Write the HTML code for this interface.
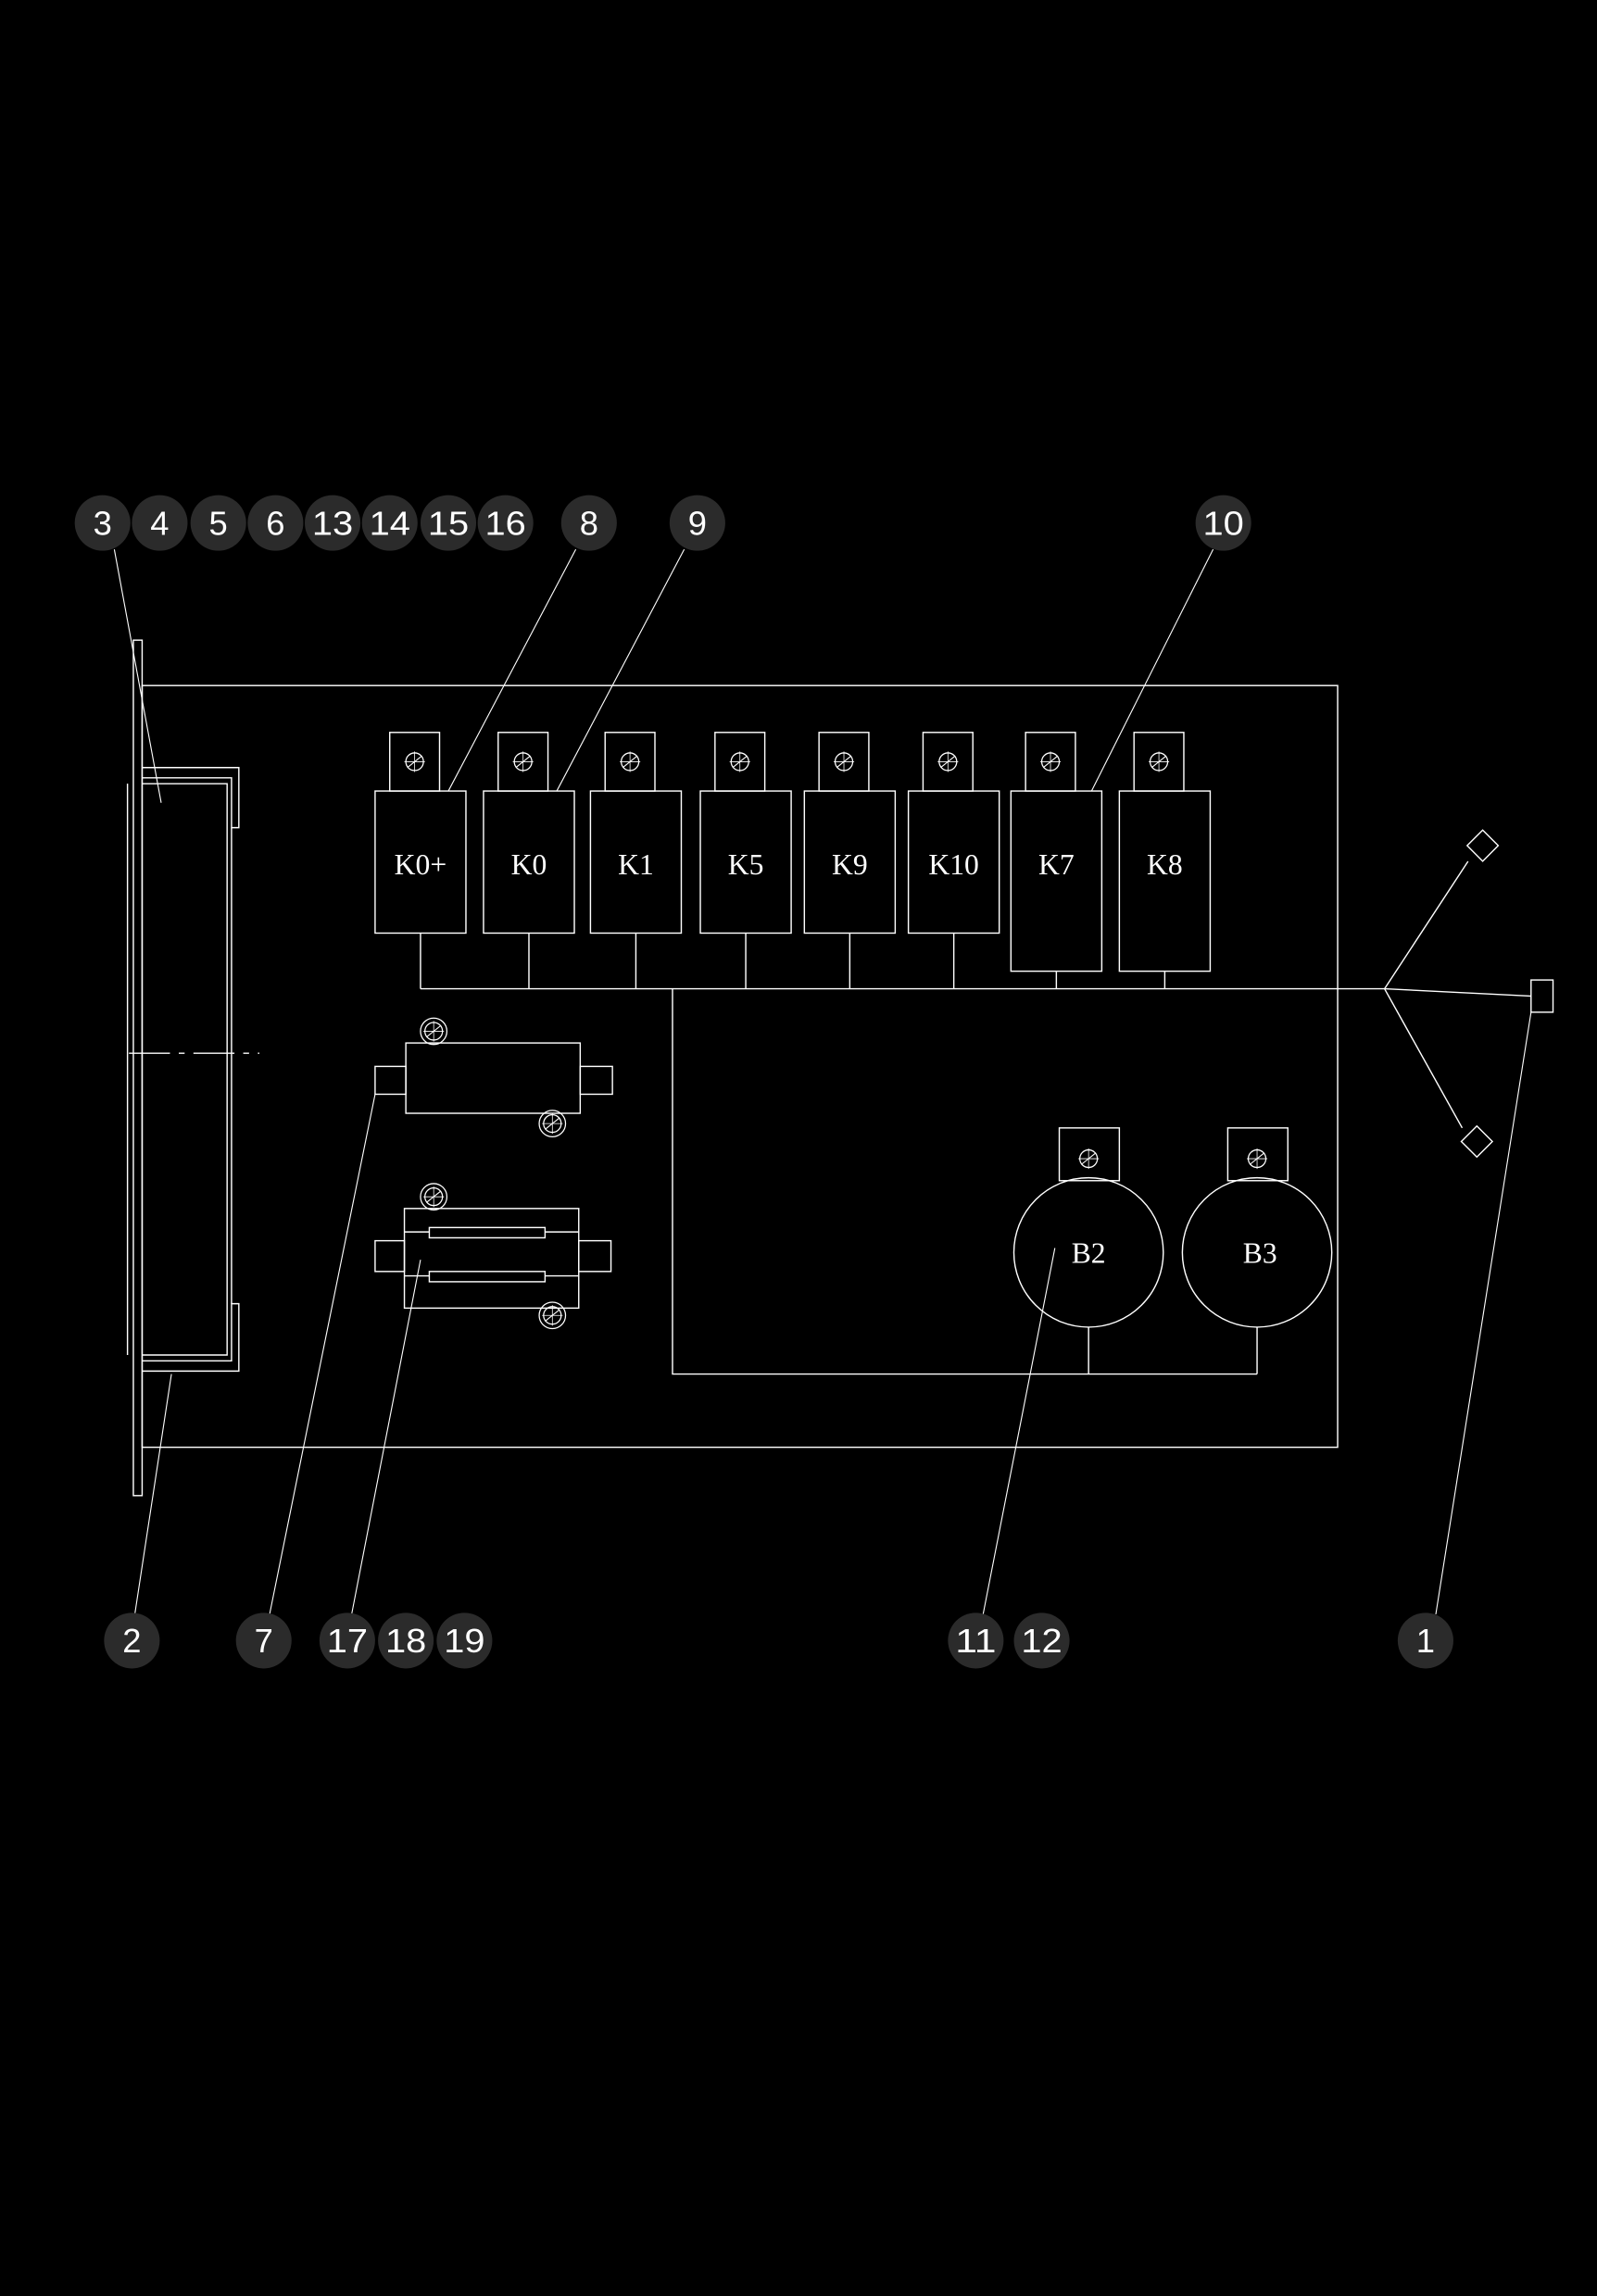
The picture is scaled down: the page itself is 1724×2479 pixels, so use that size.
<!DOCTYPE html>
<html><head><meta charset="utf-8"><style>
html,body{margin:0;padding:0;background:#000;}
svg{display:block;}
</style></head><body>
<svg width="1724" height="2479" viewBox="0 0 1090 1567.4" xmlns="http://www.w3.org/2000/svg">
<rect x="0" y="0" width="1090" height="1568" fill="#000"/>
<defs>
<g id="scr"><circle r="6" fill="none" stroke="#fff" stroke-width="0.8"/><line x1="-5" y1="4" x2="5" y2="-4" stroke="#fff" stroke-width="0.7"/><line x1="-7" y1="0" x2="7" y2="0" stroke="#fff" stroke-width="0.5"/><line x1="0" y1="-7" x2="0" y2="7" stroke="#fff" stroke-width="0.5"/></g>
<g id="scr2"><circle r="9" fill="none" stroke="#fff" stroke-width="0.8"/><use href="#scr"/></g>
</defs>
<g fill="none" stroke="#fff" stroke-width="0.9">
<rect x="97" y="468" width="816" height="520"/>
<rect x="91" y="437" width="6" height="584"/>
<line x1="87" y1="535" x2="87" y2="925"/>
<polyline points="97,524 163,524 163,565 158,565 158,531 97,531"/>
<polyline points="97,535 155,535 155,925 97,925"/>
<polyline points="97,936 163,936 163,890 158,890 158,929 97,929"/>
<line x1="158" y1="565" x2="158" y2="890"/>
<line x1="88" y1="719" x2="177" y2="719" stroke-dasharray="28,6,4,6"/>
<rect x="266" y="500" width="34" height="40"/><rect x="256" y="540" width="62" height="97"/>
<rect x="340" y="500" width="34" height="40"/><rect x="330" y="540" width="62" height="97"/>
<rect x="413" y="500" width="34" height="40"/><rect x="403" y="540" width="62" height="97"/>
<rect x="488" y="500" width="34" height="40"/><rect x="478" y="540" width="62" height="97"/>
<rect x="559" y="500" width="34" height="40"/><rect x="549" y="540" width="62" height="97"/>
<rect x="630" y="500" width="34" height="40"/><rect x="620" y="540" width="62" height="97"/>
<rect x="700" y="500" width="34" height="40"/><rect x="690" y="540" width="62" height="123"/>
<rect x="774" y="500" width="34" height="40"/><rect x="764" y="540" width="62" height="123"/>
<path d="M287 637V675M361 637V675M434 637V675M509 637V675M580 637V675M651 637V675M721 663V675M795 663V675"/>
<polyline points="287,675 945,675 1045,680"/>
<rect x="1045" y="669" width="15" height="22"/>
<line x1="945" y1="675" x2="1002" y2="588"/>
<line x1="945" y1="675" x2="998" y2="770"/>
<rect x="1004" y="570" width="15" height="15" transform="rotate(45 1012 578)"/>
<rect x="1000" y="772" width="15" height="15" transform="rotate(45 1008 780)"/>
<polyline points="459,675 459,938 858,938"/>
<line x1="743" y1="906" x2="743" y2="938"/><line x1="858" y1="906" x2="858" y2="938"/>
<circle cx="743" cy="855" r="51"/><circle cx="858" cy="855" r="51"/>
<rect x="723" y="770" width="41" height="36"/><rect x="838" y="770" width="41" height="36"/>
<rect x="277" y="712" width="119" height="48"/>
<rect x="256" y="728" width="21" height="19"/><rect x="396" y="728" width="22" height="19"/>
<rect x="276" y="825" width="119" height="68"/>
<rect x="256" y="847" width="20" height="21"/><rect x="395" y="847" width="22" height="21"/>
<rect x="293" y="838" width="79" height="7"/><rect x="293" y="868" width="79" height="7"/>
<path d="M276 841H293M372 841H395M276 871H293M372 871H395"/>
<line x1="78" y1="375" x2="110" y2="548" stroke-width="0.7"/>
<line x1="393" y1="375" x2="306" y2="540" stroke-width="0.7"/>
<line x1="467" y1="375" x2="380" y2="540" stroke-width="0.7"/>
<line x1="828" y1="375" x2="745" y2="540" stroke-width="0.7"/>
<line x1="92" y1="1102" x2="117" y2="938" stroke-width="0.7"/>
<line x1="184" y1="1102" x2="256" y2="747" stroke-width="0.7"/>
<line x1="240" y1="1102" x2="287" y2="860" stroke-width="0.7"/>
<line x1="671" y1="1102" x2="720" y2="852" stroke-width="0.7"/>
<line x1="980" y1="1102" x2="1045" y2="691" stroke-width="0.7"/>
</g>
<g>
<use href="#scr" x="283" y="520"/><use href="#scr" x="357" y="520"/><use href="#scr" x="430" y="520"/><use href="#scr" x="505" y="520"/>
<use href="#scr" x="576" y="520"/><use href="#scr" x="647" y="520"/><use href="#scr" x="717" y="520"/><use href="#scr" x="791" y="520"/>
<use href="#scr" x="743" y="791"/><use href="#scr" x="858" y="791"/>
<use href="#scr2" x="296" y="704"/><use href="#scr2" x="377" y="767"/>
<use href="#scr2" x="296" y="817"/><use href="#scr2" x="377" y="898"/>
</g>
<g fill="#fff" style="font-family:'Liberation Serif',serif" font-size="20" text-anchor="middle">
<text x="287" y="597">K0+</text><text x="361" y="597">K0</text><text x="434" y="597">K1</text><text x="509" y="597">K5</text>
<text x="580" y="597">K9</text><text x="651" y="597">K10</text><text x="721" y="597">K7</text><text x="795" y="597">K8</text>
<text x="743" y="862">B2</text><text x="860" y="862">B3</text>
</g>
<g style="font-family:'Liberation Sans',sans-serif" font-size="23" text-anchor="middle">
<g fill="#2b2b2b">
<circle cx="70" cy="357" r="19"/><circle cx="109" cy="357" r="19"/><circle cx="149" cy="357" r="19"/><circle cx="188" cy="357" r="19"/>
<circle cx="227" cy="357" r="19"/><circle cx="266" cy="357" r="19"/><circle cx="306" cy="357" r="19"/><circle cx="345" cy="357" r="19"/>
<circle cx="402" cy="357" r="19"/><circle cx="476" cy="357" r="19"/><circle cx="835" cy="357" r="19"/>
<circle cx="90" cy="1120" r="19"/><circle cx="180" cy="1120" r="19"/><circle cx="237" cy="1120" r="19"/><circle cx="277" cy="1120" r="19"/>
<circle cx="317" cy="1120" r="19"/><circle cx="666" cy="1120" r="19"/><circle cx="711" cy="1120" r="19"/><circle cx="973" cy="1120" r="19"/>
</g>
<g fill="#fff">
<text x="70" y="365">3</text><text x="109" y="365">4</text><text x="149" y="365">5</text><text x="188" y="365">6</text>
<text x="227" y="365" textLength="28" lengthAdjust="spacingAndGlyphs">13</text><text x="266" y="365" textLength="28" lengthAdjust="spacingAndGlyphs">14</text><text x="306" y="365" textLength="28" lengthAdjust="spacingAndGlyphs">15</text><text x="345" y="365" textLength="28" lengthAdjust="spacingAndGlyphs">16</text>
<text x="402" y="365">8</text><text x="476" y="365">9</text><text x="835" y="365" textLength="28" lengthAdjust="spacingAndGlyphs">10</text>
<text x="90" y="1128">2</text><text x="180" y="1128">7</text><text x="237" y="1128" textLength="28" lengthAdjust="spacingAndGlyphs">17</text><text x="277" y="1128" textLength="28" lengthAdjust="spacingAndGlyphs">18</text>
<text x="317" y="1128" textLength="28" lengthAdjust="spacingAndGlyphs">19</text><text x="666" y="1128" textLength="28" lengthAdjust="spacingAndGlyphs">11</text><text x="711" y="1128" textLength="28" lengthAdjust="spacingAndGlyphs">12</text><text x="973" y="1128">1</text>
</g>
</g>
</svg>
</body></html>
